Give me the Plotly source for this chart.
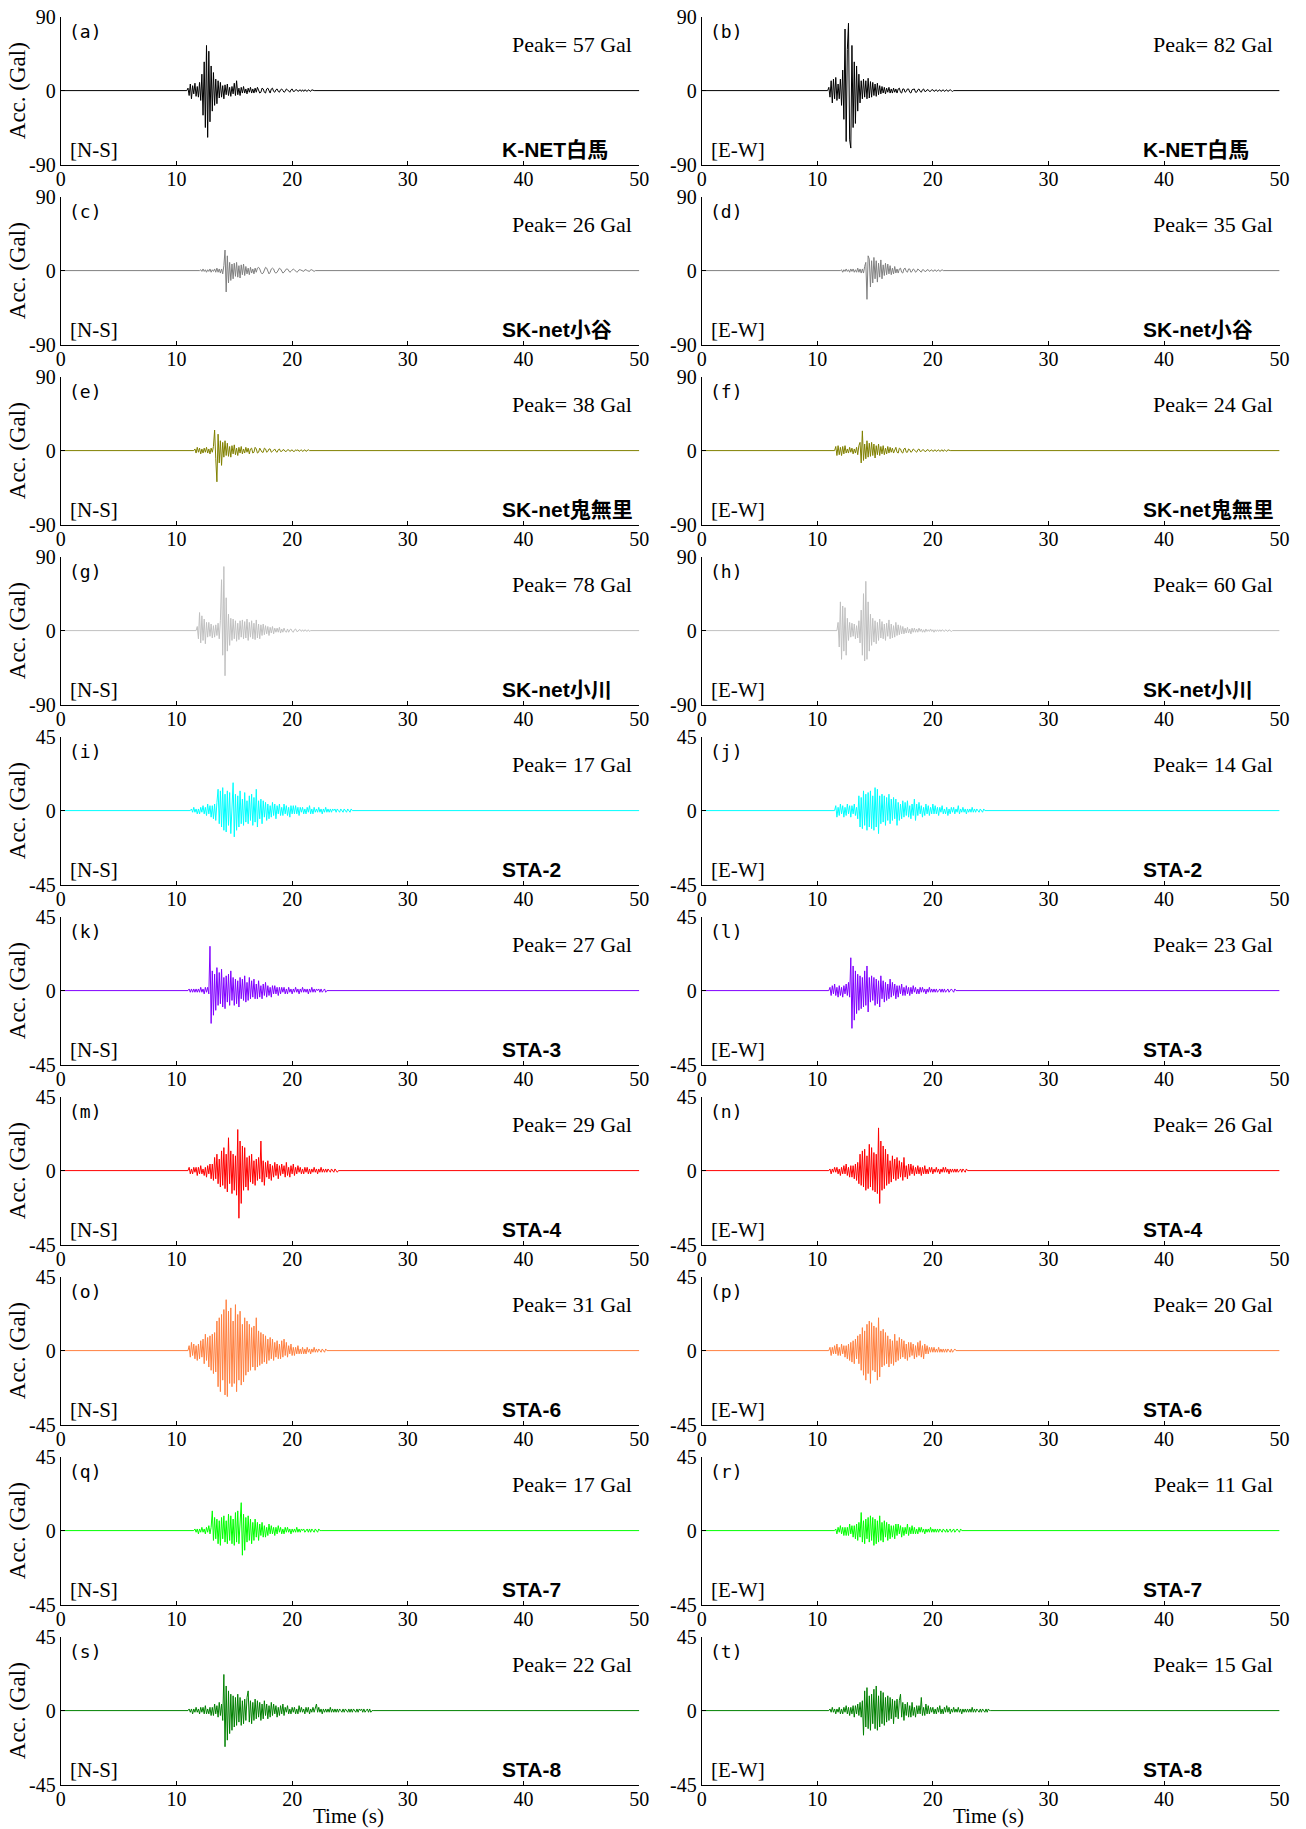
import plotly.graph_objects as go

# ---------------------------------------------------------------------------
# Acceleration records (Gal), one sample every DT seconds from each onset time
# ---------------------------------------------------------------------------
DT = 0.1
T_END = 50.0

X_TICKS = [0, 10, 20, 30, 40, 50]

STATIONS = ["K-NET白馬", "SK-net小谷", "SK-net鬼無里", "SK-net小川",
            "STA-2", "STA-3", "STA-4", "STA-6", "STA-7", "STA-8"]
COMPONENTS = ["[N-S]", "[E-W]"]
PANEL_TAGS = ["(a)", "(b)", "(c)", "(d)", "(e)", "(f)", "(g)", "(h)", "(i)", "(j)",
              "(k)", "(l)", "(m)", "(n)", "(o)", "(p)", "(q)", "(r)", "(s)", "(t)"]
Y_LIMITS = [90, 90, 90, 90, 45, 45, 45, 45, 45, 45]
PEAKS = [57, 82, 26, 35, 38, 24, 78, 60, 17, 14,
         27, 23, 29, 26, 31, 20, 17, 11, 22, 15]
ONSETS = [10.9, 10.9, 12.0, 12.0, 11.5, 11.5, 11.7, 11.7, 11.2, 11.5,
          11.0, 11.0, 11.0, 11.0, 11.0, 11.0, 11.5, 11.5, 11.0, 11.0]

acc_a = [0, 3, -6, 8, -10, 6, -4, 9, -7, 5,
         -8, 10, -12, 20, -30, 35, -45, 55, -57, 48,
         -38, 30, -25, 22, -18, 14, -16, 12, -9, 10,
         -8, 6, -10, 7, -5, 8, -6, 4, -7, 5,
         -4, 9, -6, 12, -5, 3, -6, 4, -3, 5,
         -3, 2, -4, 3, -2, 4, -3, 2, -3, 3,
         -2, 4, 1, -3, -2, 3, 2, -2, -3, 2,
         3, -1, -3, 2, 3, -1, -2, 1, 2, -1,
         -2, 1, 2, 0, -2, -1, 2, 1, -1, -2,
         1, 2, -1, -1, 1, 1, -1, 0, 1, -1,
         1, -1, 1, 0, -1, 1, 0, -1, 1, 0]
acc_b = [0, 4, -8, 12, -15, 14, -10, 16, -12, 8,
         -10, 14, -18, 25, -35, 75, -62, 50, 82, -60,
         -70, 55, -45, 35, -40, 30, -25, 20, -15, 12,
         -10, 14, -8, 12, -10, 15, -9, 11, -8, 10,
         -6, 8, -7, 9, -5, 6, -4, 5, -3, 4,
         -4, 3, -2, 4, -3, 2, -3, 3, -2, 2,
         -3, 2, 3, -2, -3, 2, 2, -2, -1, 2,
         2, -2, -3, 1, 2, 2, -2, -2, 1, 2,
         -1, -2, 1, 2, -1, -1, 1, 1, -1, -1,
         1, 1, -1, 0, 1, -1, 0, 1, -1, 0,
         1, -1, 0, 1, -1, 0, 1, 0, -1, 0]
acc_c = [0, 1, -1, 2, -1, 1, -2, 1, -1, 2,
         -2, 1, -1, 2, -2, 3, -2, 2, -3, 2,
         -4, 6, 25, -26, 18, -15, 10, -12, 8, -10,
         9, -7, 10, -8, 6, -9, 7, -5, 8, -6,
         5, -4, 3, -5, 4, -3, 2, -4, 3, -2,
         3, 4, 2, -2, -4, -3, 2, 4, 3, -2,
         -4, -2, 2, 3, 2, -2, -3, -2, 1, 3,
         2, -1, -3, -2, 1, 2, 2, -1, -2, -1,
         1, 2, 1, -1, -2, -1, 1, 1, 0, -1,
         -1, 1, 1, 0, -1, -1, 1, 1, 0, -1]
acc_d = [0, 1, -2, 1, -1, 2, -1, 1, -2, 2,
         -1, 2, -2, 1, -2, 3, -2, 2, -3, 2,
         -3, 5, 10, -35, 18, 14, -20, 12, -15, 16,
         -10, 12, -14, 9, -8, 13, -10, 7, -6, 9,
         -5, 8, -4, 6, -5, 3, -4, 5, -3, 2,
         -3, 2, 3, -2, -3, 2, 3, -1, -2, 2,
         2, -2, -1, 2, 1, -2, -1, 2, 1, -1,
         -2, 1, 1, -1, -1, 1, 1, -1, 0, 1,
         -1, 0, 1, -1, 0, 1, -1, 0, 1, 0]
acc_e = [0, 2, -3, 4, -2, 3, -4, 2, -3, 3,
         -2, 4, -3, 2, -4, 3, -2, 5, 25, -10,
         -38, 20, -15, 12, -18, 10, -8, 12, -6, 9,
         -7, 5, -8, 6, -4, 7, -5, 3, -6, 4,
         -3, 5, -4, 2, -3, 4, -2, 3, -4, 2,
         3, -3, -2, 4, 2, -3, -2, 3, 1, -2,
         -2, 3, 2, -2, -1, 2, 2, -2, -1, 1,
         2, -1, -2, 1, 2, -1, -1, 1, 1, -1,
         -1, 1, 1, -1, 0, 1, -1, -1, 1, 0,
         1, -1, 0, 1, -1, 0, 1, -1, 0, 1]
acc_f = [0, 5, -6, 6, -5, 4, -6, 5, -4, 6,
         -3, 2, -3, 4, -2, 3, -4, 2, -3, 4,
         -5, 6, 10, -15, 24, -12, 8, -10, 12, -8,
         9, -7, 10, -6, 8, -9, 6, -5, 8, -6,
         5, -4, 6, -5, 3, -4, 5, -3, 4, -2,
         3, -3, 2, 4, -2, -3, 3, 2, -2, -3,
         2, 3, -2, -2, 2, 1, -2, -1, 2, 1,
         -1, -2, 1, 2, -1, -1, 1, 1, -1, -1,
         1, 1, -1, 0, 1, -1, 0, 1, -1, 0,
         1, -1, 0, 1, -1, 1, 0, -1, 1, 0]
acc_g = [0, 5, -10, 22, -15, 18, -12, 14, -16, 10,
         -8, 10, -7, 8, -9, 6, -8, 7, -6, 9,
         -10, 12, 62, -30, 78, -55, 40, -25, 20, -18,
         15, -12, 14, -10, 12, -13, 9, -11, 12, -8,
         13, -10, 11, -9, 14, -12, 10, -8, 12, -10,
         9, -11, 13, -9, 8, -10, 7, -6, 8, -5,
         6, -4, 5, -6, 4, -3, 5, -4, 3, -2,
         3, -2, 4, -3, 2, -2, 3, -1, -2, 2,
         -2, 1, 2, -1, -2, 1, 2, -1, -1, 1,
         1, -1, 1, -1, 1, 0, -1, 1, -1, 0]
acc_h = [0, 10, -20, 35, -35, 30, -25, 28, -30, 15,
         -12, 10, -8, 9, -7, 8, -10, 6, -9, 12,
         -15, 25, -30, 45, -37, 60, -35, 35, -25, 20,
         -18, 15, -14, 12, -16, 10, -12, 14, -9, 11,
         -10, 8, -12, 9, -7, 13, -10, 8, -9, 6,
         -8, 10, -6, 7, -5, 6, -4, 5, -4, 3,
         -3, 4, -3, 2, -4, 3, -2, 3, -2, 2,
         -2, 3, -1, 2, -2, 1, -2, 2, -1, 1,
         -1, 2, -1, 1, -2, 1, -1, 1, -1, 1,
         -1, 1, 0, -1, 1, 0, -1, 1, 0, -1]
acc_i = [0, 1, -1, 2, -1, 1, -2, 1, -2, 2,
         -1, 3, -2, 2, -3, 4, -2, 3, -4, 3,
         -5, 4, -6, 5, 13, -8, 12, -10, 14, -12,
         10, -13, 12, -9, 11, -14, 9, 17, -16, 10,
         -12, 9, -10, 12, -8, 7, -9, 11, -7, 6,
         -8, 9, -6, 10, -9, 8, -7, 13, -10, 6,
         -5, 7, -8, 6, -4, 5, -6, 4, -5, 3,
         -4, 5, -3, 4, -5, 3, -2, 4, -3, 2,
         -3, 4, -2, 3, -3, 2, -4, 3, -2, 3,
         -2, 3, -2, 2, -3, 2, -1, 2, -2, 1,
         -2, 2, -1, 3, -2, 1, -2, 2, -1, 1,
         -1, 2, -1, 1, -2, 1, -1, 2, -1, 1,
         -1, 1, -1, 1, 0, 1, -1, 1, 0, -1,
         1, 0, -1, 1, 0, -1, 1, 0, -1, 1]
acc_j = [0, 3, -4, 2, -3, 4, -2, 3, -4, 2,
         -3, 4, -2, 3, -4, 3, -2, 4, -3, 2,
         -5, 9, -10, 8, -11, 12, -9, 10, -12, 11,
         -10, 12, -11, 9, -12, 14, -10, 13, -14, 9,
         -8, 10, -7, 9, -9, 8, -6, 10, -8, 7,
         -6, 8, -5, 7, -9, 5, -6, 4, -5, 6,
         -4, 5, -3, 6, -4, 3, -5, 4, -3, 7,
         -6, 4, -3, 5, -2, 3, -4, 2, -3, 4,
         -2, 3, -3, 2, -2, 4, -2, 3, -2, 2,
         -3, 2, -1, 3, -2, 1, -2, 2, -3, 1,
         -2, 2, -1, 2, -2, 1, -1, 3, -2, 1,
         -1, 2, -1, 1, -2, 1, -1, 1, -1, 2,
         -1, 1, -1, 1, 0, -1, 1, 0, -1, 1]
acc_k = [0, 1, -1, 1, -1, 1, -1, 1, -1, 1,
         -1, 2, -1, 1, -2, 2, -1, 2, -2, 27,
         -20, 12, -15, 10, -12, 14, -9, 11, -8, 13,
         -10, 8, -11, 9, -7, 10, -9, 12, -6, 8,
         -9, 7, -8, 6, -10, 8, -5, 7, -6, 9,
         -7, 5, -6, 8, -5, 6, -4, 7, -5, 4,
         -5, 6, -4, 3, -5, 4, -3, 5, -4, 3,
         -3, 2, -4, 3, -2, 3, -2, 2, -3, 2,
         -2, 2, -1, 2, -2, 1, -2, 2, -1, 1,
         -2, 1, -1, 2, -1, 1, -2, 1, -1, 2,
         -1, 1, -1, 1, -2, 1, -1, 2, -1, 1,
         -1, 1, 0, 1, -1, 1, -1, 0, 1, -1]
acc_l = [0, 2, -3, 3, -2, 4, -3, 2, -4, 3,
         -3, 2, -4, 3, -2, 4, -3, 5, -4, 20,
         -23, 15, -18, 12, -14, 10, -12, 9, -11, 8,
         -10, 12, -9, 15, -13, 8, -7, 9, -6, 8,
         -9, 7, -8, 6, -10, 9, -5, 6, -7, 5,
         -6, 4, -5, 7, -4, 5, -3, 4, -5, 3,
         -4, 3, -2, 4, -3, 2, -3, 3, -2, 2,
         -3, 2, -2, 3, -1, 2, -2, 1, -2, 2,
         -1, 2, -1, 1, -2, 1, -1, 2, -1, 1,
         -1, 1, -1, 1, -1, 0, 1, -1, 1, -1,
         1, -1, 0, 1, -1, 0, 1, 0, -1, 1]
acc_m = [0, 2, -2, 1, -2, 2, -1, 2, -3, 2,
         -2, 3, -2, 1, -3, 2, -4, 3, -2, 4,
         -5, 4, -6, 8, -5, 10, -8, 7, -10, 12,
         -9, 14, -11, 10, -13, 20, -8, 12, -14, 10,
         -12, 9, -15, 25, -29, 18, -20, 15, -12, 14,
         -10, 8, -12, 9, -7, 10, -8, 6, -9, 7,
         -6, 8, -5, 18, -7, 6, -9, 5, -4, 6,
         -5, 4, -6, 3, -4, 5, -3, 4, -5, 3,
         -3, 4, -2, 3, -4, 5, -3, 2, -4, 3,
         -2, 4, -3, 2, -2, 3, -1, 2, -2, 1,
         -2, 2, -1, 2, -2, 1, -2, 1, -1, 2,
         -1, 1, -2, 1, -1, 2, -1, 1, -1, 1,
         -1, 1, 0, -1, 1, 0, -1, 1, 0, -1]
acc_n = [0, 1, -2, 1, -1, 2, -1, 2, -2, 1,
         -3, 2, -2, 3, -2, 4, -3, 2, -4, 3,
         -4, 3, -5, 4, -6, 5, -8, 10, -9, 12,
         -10, 13, -12, 9, -11, 16, -10, 14, -12, 11,
         -13, 10, -14, 26, -20, 18, -12, 15, -11, 13,
         -9, 10, -8, 6, -7, 9, -5, 7, -6, 8,
         -5, 6, -4, 5, -6, 8, -4, 3, -5, 4,
         -3, 4, -2, 3, -3, 2, -2, 3, -2, 2,
         -3, 2, -2, 3, -2, 1, -2, 2, -1, 2,
         -2, 1, -1, 2, -1, 1, -2, 1, -1, 2,
         -1, 2, -1, 1, -2, 1, -1, 1, -1, 1,
         -1, 1, -1, 0, 1, -1, 1, 0, -1, 1]
acc_o = [0, 3, -4, 5, -3, 4, -5, 3, -6, 4,
         -5, 6, -4, 7, -8, 10, -6, 8, -10, 9,
         -12, 10, -14, 11, -13, 18, -22, 20, -25, 22,
         -18, 25, -27, 31, -28, 24, -20, 26, -22, 18,
         -20, 28, -25, 22, -18, 24, -21, 16, -19, 20,
         -15, 18, -13, 16, -12, 14, -10, 15, -12, 20,
         -10, 12, -9, 11, -8, 10, -7, 9, -8, 7,
         -6, 8, -5, 7, -6, 5, -4, 6, -5, 4,
         -5, 6, -4, 7, -3, 5, -4, 3, -2, 4,
         -3, 2, -3, 2, -2, 3, -2, 1, -2, 2,
         -2, 1, -2, 2, -1, 1, -2, 1, -1, 2,
         -1, 1, -1, 1, 0, -1, 1, 0, -1, 1]
acc_p = [0, 2, -3, 2, -2, 3, -2, 4, -3, 2,
         -3, 4, -2, 3, -4, 3, -5, 4, -6, 5,
         -7, 6, -8, 7, -5, 9, -8, 10, -12, 14,
         -15, 12, -18, 16, -14, 18, -20, 17, -12, 15,
         -13, 14, -18, 20, -16, 12, -10, 13, -9, 11,
         -8, 9, -10, 7, -8, 6, -9, 10, -7, 6,
         -6, 8, -5, 7, -4, 6, -5, 4, -6, 5,
         -4, 5, -3, 4, -5, 3, -4, 5, -3, 6,
         -4, 3, -5, 4, -2, 3, -2, 2, -1, 2,
         -1, 2, -1, 1, -1, 2, -1, 1, -1, 1,
         -1, 1, -1, 1, 0, -1, 1, -1, 0, 1]
acc_q = [0, 1, -1, 1, -2, 1, -1, 2, -1, 1,
         -2, 2, -1, 3, -2, 2, 12, -6, 8, -5,
         7, -8, 6, -9, 8, -5, 9, -7, 6, -8,
         10, -6, 9, -8, 7, -9, 11, -7, 12, -8,
         9, 17, -15, 10, -12, 8, -7, 9, -6, 7,
         -8, 5, -6, 7, -4, 5, -6, 4, -3, 5,
         -4, 3, -4, 2, -3, 4, -2, 3, -2, 2,
         -3, 2, -2, 3, -1, 2, -2, 1, -2, 2,
         -1, 2, -1, 1, -2, 1, -1, 1, -1, 2,
         -1, 1, -1, 1, 0, 1, -1, 0, 1, -1,
         1, -1, 1, 0, -1, 1, 0, -1, 1, 0]
acc_r = [0, 1, -2, 2, -1, 3, -2, 2, -3, 2,
         -3, 2, -3, 4, -2, 3, -4, 3, -5, 4,
         -6, 5, -4, 11, -7, 6, -8, 7, -5, 8,
         -7, 9, -6, 8, -9, 7, -8, 6, -7, 9,
         -6, 5, -7, 6, -4, 5, -6, 4, -5, 3,
         -4, 3, -5, 4, -3, 4, -2, 3, -4, 2,
         -3, 2, -2, 4, -3, 2, -2, 3, -2, 2,
         -2, 1, -2, 2, -1, 2, -1, 1, -2, 1,
         -1, 1, -1, 2, -1, 1, -1, 1, -1, 1,
         -1, 1, 0, -1, 1, 0, -1, 1, -1, 0,
         1, -1, 0, 1, -1, 0, 1, 0, -1, 1]
acc_s = [0, 1, -1, 1, -2, 1, -1, 2, -1, 1,
         -2, 2, -1, 2, -2, 3, -2, 1, -2, 2,
         -3, 2, -3, 4, -2, 3, -4, 5, -3, 4,
         -6, 22, -22, 15, -18, 12, -14, 10, -12, 9,
         -10, 8, -9, 10, -7, 8, -9, 6, -8, 7,
         -6, 8, 12, -7, 6, -8, 5, -6, 7, -5,
         6, -4, 5, -6, 4, -5, 6, -3, 4, -5,
         3, -4, 5, -3, 4, -2, 3, -4, 2, -3,
         3, -2, 4, -3, 2, -1, 3, -2, 1, -2,
         2, -1, 2, -2, 1, -2, 3, -1, 2, -1,
         1, -2, 2, -1, 2, -2, 1, -1, 2, -1,
         1, 4, -1, 2, -1, 1, -2, 1, -1, 1,
         -1, 1, -1, 2, -1, 1, -1, 1, -1, 1,
         -1, 1, 0, -1, 1, -1, 1, 0, -1, 1,
         -1, 1, -1, 1, 0, -1, 1, -1, 1, 0,
         1, -1, 1, -1, 0, 1, -1, 1, -1, 0]
acc_t = [0, 1, -1, 2, -1, 1, -2, 1, -1, 2,
         -2, 1, -2, 2, -1, 3, -2, 2, -3, 2,
         -2, 3, -4, 3, -2, 4, -3, 5, -4, 6,
         -15, 12, -10, 14, -11, 9, -12, 10, -8, 13,
         -11, 15, -12, 9, -10, 12, -8, 11, -9, 8,
         -7, 9, -6, 8, -5, 7, -8, 6, -4, 7,
         -5, 6, 10, -4, 5, -6, 4, -3, 5, -4,
         3, -4, 5, -3, 2, -4, 3, -2, 3, -2,
         8, -3, 2, -3, 4, -2, 3, -2, 2, -1,
         2, -2, 1, -2, 2, -1, 3, -2, 1, -2,
         2, -1, 3, -1, 2, -2, 1, -1, 2, -1,
         1, -1, 2, -1, 1, -2, 1, -1, 1, -1,
         1, -1, 1, -1, 2, -1, 1, -1, 1, 0,
         -1, 1, -1, 1, 0, -1, 1, -1, 1, 0]

RECORDS = [acc_a, acc_b, acc_c, acc_d, acc_e, acc_f, acc_g, acc_h, acc_i, acc_j,
           acc_k, acc_l, acc_m, acc_n, acc_o, acc_p, acc_q, acc_r, acc_s, acc_t]

# ---------------------------------------------------------------------------
# Styling
# ---------------------------------------------------------------------------
ROW_COLORS = ["#000000", "#808080", "#808000", "#c0c0c0", "#00ffff",
              "#8000ff", "#ff0000", "#ff8040", "#00ff00", "#008000"]

W, H = 1306, 1829
COL_X = [(60.7, 639.3), (701.7, 1279.6)]   # plot area left/right, px
ROW_TOP0, ROW_H, ROW_PITCH = 16.7, 147.8, 180.0

SERIF = "Liberation Serif, Times New Roman, serif"
BOLD_SANS = "Liberation Sans, Arial, Noto Sans CJK JP, sans-serif"
MONO = "DejaVu Sans Mono, monospace"


def px_x(x):
    return x / W


def px_y(y):
    return 1 - y / H


fig = go.Figure()
layout = {}
annotations = []

for k, vals in enumerate(RECORDS):
    assert max(abs(v) for v in vals) == PEAKS[k]
    row, col = divmod(k, 2)
    n = k + 1
    sfx = "" if n == 1 else str(n)
    top = ROW_TOP0 + ROW_PITCH * row
    bottom = top + ROW_H
    lim = Y_LIMITS[row]

    # quiet before the onset, the stored record, then back to rest until T_END
    t0 = ONSETS[k]
    times = [0.0] + [round(t0 + DT * i, 3) for i in range(len(vals))]
    times += [round(times[-1] + DT, 3), T_END]
    acc = [0] + list(vals) + [0, 0]

    fig.add_trace(go.Scatter(
        x=times, y=acc, mode="lines",
        line=dict(color=ROW_COLORS[row], width=1),
        xaxis="x" + sfx, yaxis="y" + sfx,
        showlegend=False, hoverinfo="skip",
    ))

    x0, x1 = COL_X[col]
    layout["xaxis" + sfx] = dict(
        domain=[px_x(x0), px_x(x1)], range=[0, T_END], anchor="y" + sfx,
        tickmode="array", tickvals=X_TICKS, ticktext=[str(v) for v in X_TICKS],
        ticks="inside", ticklen=4, tickwidth=1, tickcolor="black",
        ticklabelstandoff=-4,
        showline=True, linecolor="black", linewidth=1,
        showgrid=False, zeroline=False, automargin=False,
        tickfont=dict(family=SERIF, size=20, color="black"),
        fixedrange=True,
    )
    layout["yaxis" + sfx] = dict(
        domain=[px_y(bottom), px_y(top)], range=[-lim, lim], anchor="x" + sfx,
        tickmode="array", tickvals=[-lim, 0, lim],
        ticktext=["-%d" % lim, "0", "%d" % lim],
        ticks="inside", ticklen=4, tickwidth=1, tickcolor="black",
        showline=True, linecolor="black", linewidth=1,
        showgrid=False, zeroline=False, automargin=False,
        tickfont=dict(family=SERIF, size=20, color="black"),
        fixedrange=True,
    )

    # panel tag, peak value, component and station labels
    annotations.append(dict(
        text=PANEL_TAGS[k], x=px_x(x0 + 6), y=px_y(top + 15),
        xref="paper", yref="paper", xanchor="left", yanchor="middle",
        showarrow=False, font=dict(family=MONO, size=18, color="black"),
    ))
    annotations.append(dict(
        text="Peak= %d Gal" % PEAKS[k], x=px_x(x1 - 5), y=px_y(top + 27.5),
        xref="paper", yref="paper", xanchor="right", yanchor="middle",
        showarrow=False, font=dict(family=SERIF, size=22, color="black"),
    ))
    annotations.append(dict(
        text=COMPONENTS[col], x=px_x(x0 + 7), y=px_y(top + 133),
        xref="paper", yref="paper", xanchor="left", yanchor="middle",
        showarrow=False, font=dict(family=SERIF, size=21, color="black"),
    ))
    annotations.append(dict(
        text="<b>%s</b>" % STATIONS[row], x=px_x(x0 + 439.5), y=px_y(top + 132.5),
        xref="paper", yref="paper", xanchor="left", yanchor="middle",
        showarrow=False, font=dict(family=BOLD_SANS, size=21, color="black"),
    ))

    if col == 0:
        annotations.append(dict(
            text="Acc. (Gal)", x=px_x(17.5), y=px_y(top + 74), textangle=-90,
            xref="paper", yref="paper", xanchor="center", yanchor="middle",
            showarrow=False, font=dict(family=SERIF, size=23, color="black"),
        ))
    if row == len(STATIONS) - 1:
        annotations.append(dict(
            text="Time (s)", x=px_x((x0 + x1) / 2 - 2), y=px_y(1815.5),
            xref="paper", yref="paper", xanchor="center", yanchor="middle",
            showarrow=False, font=dict(family=SERIF, size=21, color="black"),
        ))

fig.update_layout(
    width=W, height=H,
    margin=dict(l=0, r=0, t=0, b=0, autoexpand=False),
    paper_bgcolor="white", plot_bgcolor="white",
    annotations=annotations,
    **layout,
)

fig.write_html("out.html")
